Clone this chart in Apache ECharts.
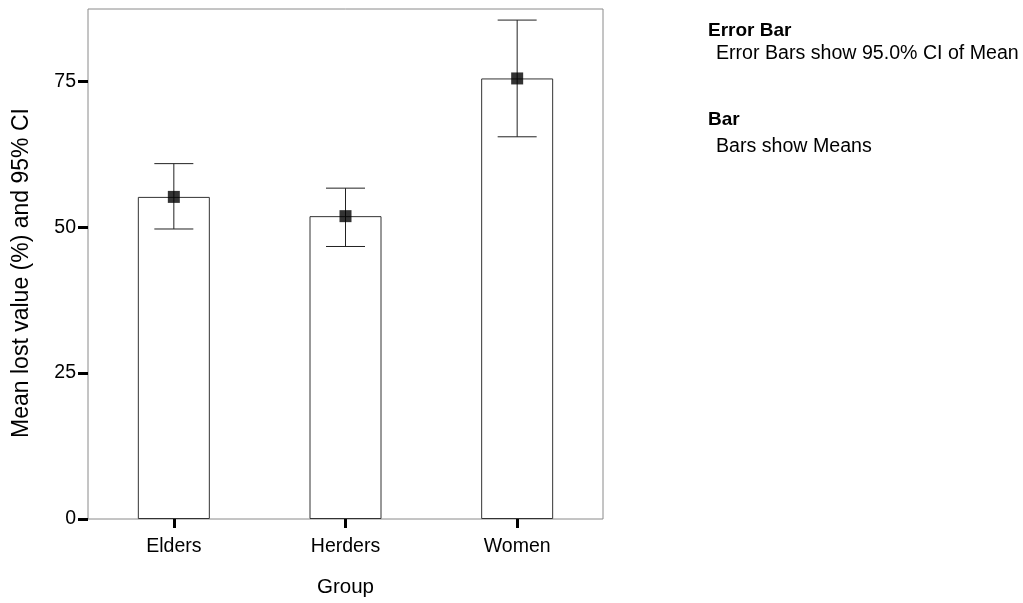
<!DOCTYPE html>
<html>
<head>
<meta charset="utf-8">
<script src="https://cdn.jsdelivr.net/npm/echarts@6/dist/echarts.min.js"></script>
<style>
html,body{margin:0;padding:0;background:#fff;}
#chart{width:1023px;height:603px;}
</style>
</head>
<body>
<div id="chart"></div>
<script>
var categories = ['Elders', 'Herders', 'Women'];
var means = [55.2, 51.9, 75.5];
var ciLower = [49.7, 46.7, 65.5];
var ciUpper = [60.9, 56.7, 85.5];
var yTicks = [0, 25, 50, 75];
var yMax = 87.4;

var FONT = '"Liberation Sans", Arial, sans-serif';
var chart = echarts.init(document.getElementById('chart'), null, {renderer: 'canvas'});

var errData = categories.map(function (c, i) { return [i, ciLower[i], ciUpper[i]]; });

chart.setOption({
  animation: false,
  backgroundColor: '#ffffff',
  grid: {left: 88, right: 420, top: 9, bottom: 80, show: true, borderColor: '#8a8a8a', borderWidth: 1, backgroundColor: 'transparent', containLabel: false},
  xAxis: {
    type: 'category',
    data: categories,
    name: 'Group',
    nameLocation: 'middle',
    nameGap: 58,
    nameTextStyle: {fontFamily: FONT, fontSize: 20.5, color: '#000'},
    axisLine: {show: false},
    axisTick: {show: true, alignWithLabel: true, length: 9, lineStyle: {color: '#000', width: 3}},
    axisLabel: {fontFamily: FONT, fontSize: 19.5, color: '#000', margin: 18},
    splitLine: {show: false}
  },
  yAxis: {
    type: 'value',
    min: 0,
    max: yMax,
    name: 'Mean lost value (%) and 95% CI',
    nameLocation: 'middle',
    nameGap: 55,
    nameTextStyle: {fontFamily: FONT, fontSize: 23, color: '#000', padding: [0, 18, 0, 0]},
    axisLine: {show: false},
    axisTick: {show: true, length: 10, customValues: yTicks, lineStyle: {color: '#000', width: 3}},
    axisLabel: {fontFamily: FONT, fontSize: 19.5, color: '#000', margin: 12, customValues: yTicks},
    splitLine: {show: false}
  },
  series: [
    {
      type: 'bar',
      data: means,
      barWidth: 72,
      itemStyle: {color: '#ffffff', borderColor: '#333333', borderWidth: 1},
      silent: true
    },
    {
      type: 'custom',
      data: errData,
      z: 5,
      renderItem: function (params, api) {
        var x = api.value(0);
        var lo = api.coord([x, api.value(1)]);
        var hi = api.coord([x, api.value(2)]);
        var hw = 19.5;
        var style = {stroke: '#222', lineWidth: 1};
        return {
          type: 'group',
          children: [
            {type: 'line', shape: {x1: lo[0], y1: lo[1], x2: hi[0], y2: hi[1]}, style: style},
            {type: 'line', shape: {x1: lo[0] - hw, y1: lo[1], x2: lo[0] + hw, y2: lo[1]}, style: style},
            {type: 'line', shape: {x1: hi[0] - hw, y1: hi[1], x2: hi[0] + hw, y2: hi[1]}, style: style}
          ]
        };
      }
    },
    {
      type: 'scatter',
      data: means,
      symbol: 'rect',
      symbolSize: 12,
      z: 6,
      itemStyle: {color: '#000'}
    }
  ],
  graphic: [
    {type: 'text', left: 708, top: 21, style: {text: 'Error Bar', font: 'bold 19px ' + FONT, fill: '#000'}},
    {type: 'text', left: 716, top: 44, style: {text: 'Error Bars show 95.0% CI of Mean', font: '19.6px ' + FONT, fill: '#000'}},
    {type: 'text', left: 708, top: 110, style: {text: 'Bar', font: 'bold 19px ' + FONT, fill: '#000'}},
    {type: 'text', left: 716, top: 137, style: {text: 'Bars show Means', font: '19.6px ' + FONT, fill: '#000'}}
  ]
});
</script>
</body>
</html>
